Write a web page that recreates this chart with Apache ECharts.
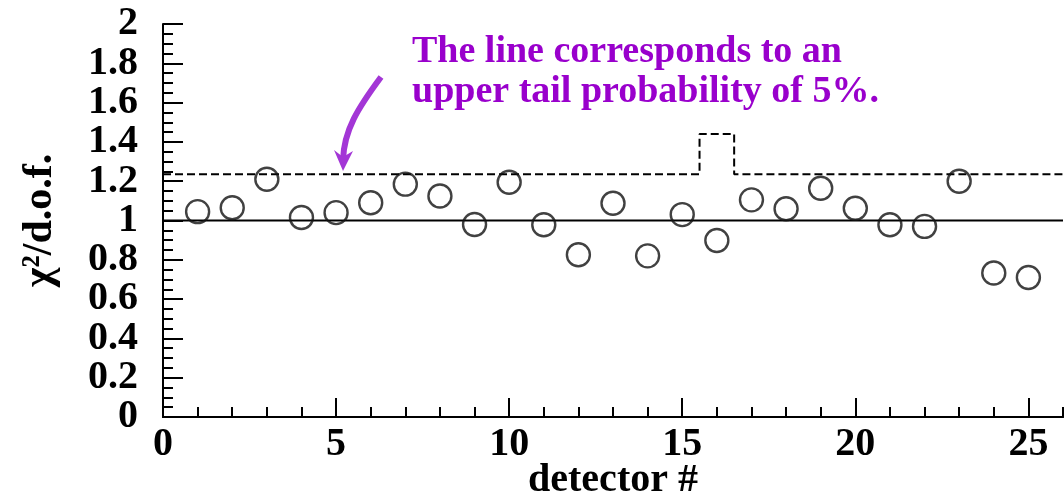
<!DOCTYPE html>
<html>
<head>
<meta charset="utf-8">
<script src="https://cdn.jsdelivr.net/npm/echarts@6/dist/echarts.min.js"></script>
<style>html,body{margin:0;padding:0;background:#fff}#c{width:1064px;height:494px}</style>
</head>
<body>
<div id="c"></div>
<script>
// ---- data ----
const detectors = [1,2,3,4,5,6,7,8,9,10,11,12,13,14,15,16,17,18,19,20,21,22,23,24,25];
const chi2dof  = [1.045,1.065,1.21,1.015,1.04,1.09,1.185,1.125,0.98,1.195,0.978,0.826,1.088,0.82,1.03,0.898,1.105,1.06,1.164,1.062,0.978,0.97,1.20,0.733,0.71];
const thresholdX = [0, 15.5, 15.5, 16.5, 16.5, 26];
const thresholdY = [1.235, 1.235, 1.44, 1.44, 1.235, 1.235];
const referenceX = [0, 26];
const referenceY = [1, 1];
const xTickLabels = [0,5,10,15,20,25];
const yTickValuesA = [0,0.4,0.8,1.2,1.6,2];
const yTickValuesB = [0.2,0.6,1,1.4,1.8];
const yTickLabels = ['0','0.2','0.4','0.6','0.8','1','1.2','1.4','1.6','1.8','2'];
const noteLines = ['The line corresponds to an', 'upper tail probability of 5%.'];

const FONT = '"Liberation Serif", "DejaVu Serif", serif';
const chart = echarts.init(document.getElementById('c'), null, {renderer:'canvas'});

const scatterData = detectors.map((d,i)=>[d, chi2dof[i]]);
const thrData = thresholdX.map((x,i)=>[x, thresholdY[i]]);
const refData = referenceX.map((x,i)=>[x, referenceY[i]]);

const lab = {fontFamily: FONT, fontWeight:'bold', fontSize: 40, color:'#000', lineHeight:30};
const yFmt = (v)=> { const i = Math.round(v/0.2); return yTickLabels[i] || ''; };
function labelledY(vals){
  return { type:'value', min:0, max:2, position:'left',
    axisLine:{show:false},
    axisTick:{show:true, inside:true, length:20, lineStyle:{color:'#000', width:2}, customValues: vals},
    axisLabel:{show:true, margin:25, ...lab, customValues: vals, interval:0,
      showMinLabel:true, showMaxLabel:true, hideOverlap:false, formatter:yFmt},
    splitLine:{show:false} };
}

chart.setOption({
  animation:false,
  backgroundColor:'#fff',
  grid:{left:163, right:1, top:24, bottom:77, outerBoundsMode:'none', containLabel:false},
  xAxis:[
    { type:'value', min:0, max:26, interval:1, position:'bottom',
      axisLine:{show:true, lineStyle:{color:'#000', width:2}},
      axisTick:{show:true, inside:true, length:10, lineStyle:{color:'#000', width:2}},
      axisLabel:{show:false}, splitLine:{show:false},
      name:'detector #', nameLocation:'middle', nameGap:44,
      nameTextStyle:{fontFamily:FONT, fontWeight:'bold', fontSize:40, color:'#000'} },
    { type:'value', min:0, max:26, interval:5, position:'bottom',
      axisLine:{show:false},
      axisTick:{show:true, inside:true, length:19, lineStyle:{color:'#000', width:2},
        customValues: xTickLabels},
      axisLabel:{show:true, margin:13, ...lab, customValues: xTickLabels, interval:0,
        showMinLabel:true, hideOverlap:false,
        formatter:(v)=> (xTickLabels.indexOf(v)>=0 ? String(v) : '')},
      splitLine:{show:false} },
    { type:'value', min:0, max:26, position:'top',
      axisLine:{show:true, lineStyle:{color:'#000', width:2}},
      axisTick:{show:false}, axisLabel:{show:false}, splitLine:{show:false} }
  ],
  yAxis:[
    { type:'value', min:0, max:2, interval:0.05, position:'left',
      axisLine:{show:true, lineStyle:{color:'#000', width:2}},
      axisTick:{show:true, inside:true, length:10, lineStyle:{color:'#000', width:2}},
      axisLabel:{show:false}, splitLine:{show:false},
      name:'χ²/d.o.f.', nameLocation:'middle', nameGap:102, nameRotate:90,
      nameTextStyle:{fontFamily:FONT, fontWeight:'bold', fontSize:42, color:'#000'} },
    labelledY(yTickValuesA),
    labelledY(yTickValuesB)
  ],
  series:[
    { type:'line', xAxisIndex:0, yAxisIndex:0, data:refData, symbol:'none',
      lineStyle:{color:'#000', width:2}, silent:true, z:2 },
    { type:'line', xAxisIndex:0, yAxisIndex:0, data:thrData, symbol:'none',
      lineStyle:{color:'#000', width:2, type:[8,4]}, silent:true, z:2 },
    { type:'scatter', xAxisIndex:0, yAxisIndex:0, data:scatterData, symbol:'circle', symbolSize:23,
      itemStyle:{color:'rgba(255,255,255,0)', borderColor:'#111', borderWidth:2.4}, z:3 }
  ],
  graphic:[
    { type:'text', left:412, top:32, z:10,
      style:{text: noteLines.join('\n'), fontFamily:FONT, fontWeight:'bold', fontSize:38,
        lineHeight:40, fill:'#9900cc'} },
    { type:'bezierCurve', z:10,
      shape:{x1:381, y1:77, x2:343, y2:160, cpx1:358, cpy1:108, cpx2:344, cpy2:130},
      style:{stroke:'#a336d6', lineWidth:6, fill:null} },
    { type:'polygon', z:10,
      shape:{points:[[334,150],[343,171],[353,151],[343,157]]},
      style:{fill:'#a336d6'} }
  ]
});
</script>
</body>
</html>
